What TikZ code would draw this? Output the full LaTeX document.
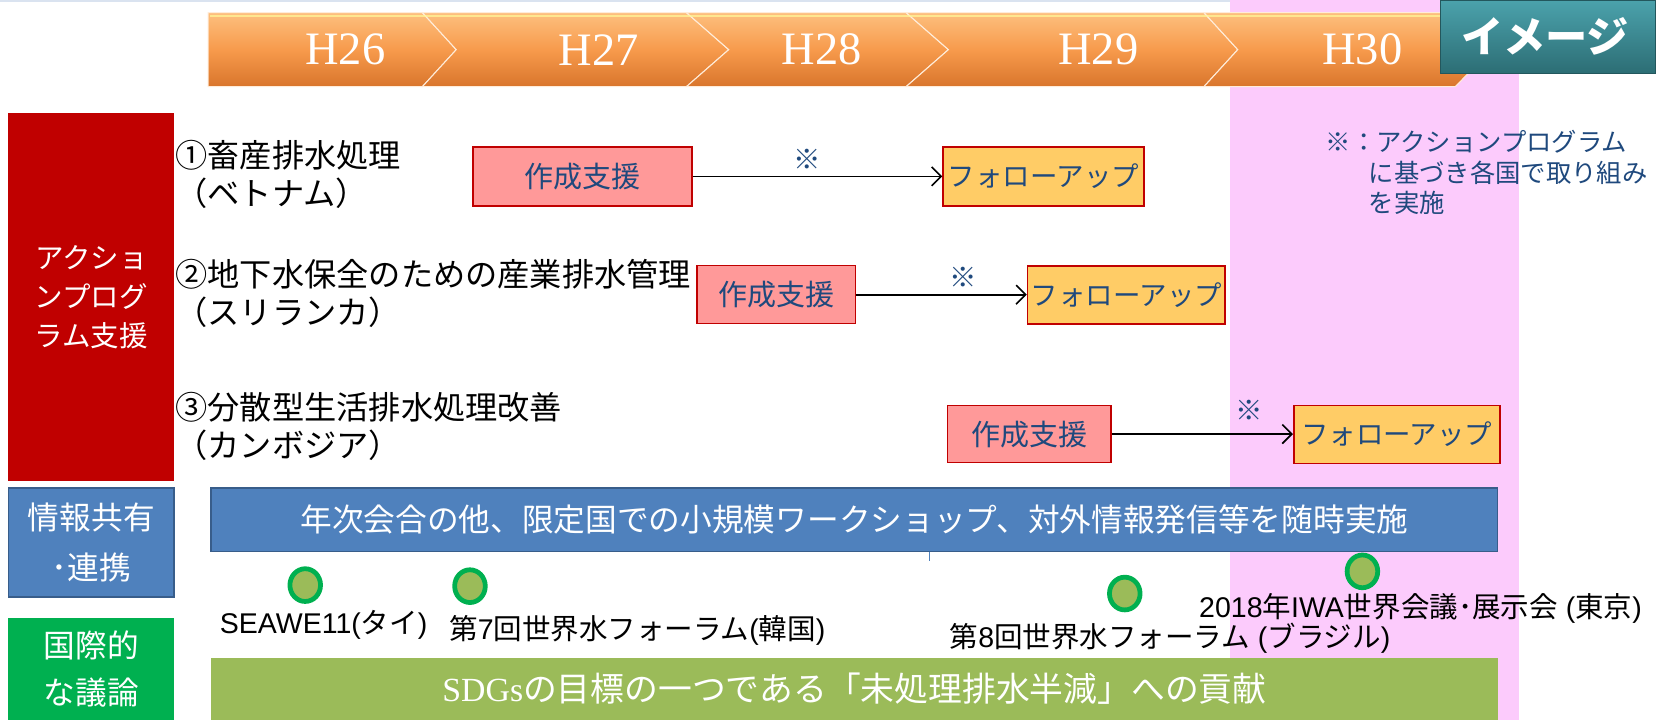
\documentclass[tikz,border=0pt]{standalone}
\usepackage{fontspec}
\setmainfont{Noto Sans CJK JP}
\newfontfamily\serifL{Liberation Serif}
\newfontfamily\lsans{Liberation Sans}
\usetikzlibrary{arrows.meta,shapes.geometric}
\definecolor{catred}{HTML}{C00000}
\definecolor{catblue}{HTML}{4F81BD}
\definecolor{catblueb}{HTML}{385D8A}
\definecolor{catgreen}{HTML}{00B050}
\definecolor{olive}{HTML}{9BBB59}
\definecolor{pinkband}{HTML}{FCCBFC}
\definecolor{topline}{HTML}{DAE3F0}
\definecolor{navytext}{HTML}{1F497D}
\definecolor{sakfill}{HTML}{FF9999}
\definecolor{folfill}{HTML}{FFCC66}
\definecolor{orTop}{HTML}{FDBF7E}
\definecolor{orMid}{HTML}{F79A4C}
\definecolor{orBot}{HTML}{D9752C}
\definecolor{tealTop}{HTML}{4BA2AC}
\definecolor{tealBot}{HTML}{2C6D74}
\newcommand\fsz[2]{\fontsize{#1}{#2}\selectfont}
\begin{document}
\begin{tikzpicture}[x=1pt,y=-1pt,
  catbox/.style={inner sep=0pt, text=white, align=center},
  itemlbl/.style={anchor=north west, align=left, inner sep=0pt, font=\fsz{30.5}{36}},
  sakbox/.style={fill=sakfill, draw=catred, line width=1.5pt, text=navytext, font=\fsz{27.5}{30}, inner sep=0pt},
  folbox/.style={fill=folfill, draw=catred, line width=1.5pt, text=navytext, font=\fsz{26}{30}, inner sep=0pt},
  flow/.style={line width=1.6pt, -{Straight Barb[length=9pt,width=18pt,line width=1.6pt]}},
  kome/.style={text=navytext, font=\fsz{26}{30}, inner sep=0pt},
  evt/.style={ellipse, fill=olive, draw=catgreen, line width=4.5pt, minimum width=29pt, minimum height=31pt, inner sep=0pt},
  evtlbl/.style={font=\fsz{27}{30}, inner sep=0pt},
  yr/.style={text=white, font=\serifL\fsz{44}{50}, inner sep=0pt},
  seg/.style={top color=orTop, bottom color=orBot, middle color=orMid, draw=white!85!orange, line width=1pt}
]
\useasboundingbox (0,0) rectangle (1568,682);
% top line and pink band
\fill[topline] (0,0) rectangle (1568,2);
\fill[pinkband] (1165,0) rectangle (1438,682);

% timeline
\shade[seg] (197,12) -- (400,12) -- (432,47) -- (400,82) -- (197,82) -- cycle;
\shade[seg] (400,12) -- (650,12) -- (690,47) -- (650,82) -- (400,82) -- (432,47) -- cycle;
\shade[seg] (650,12) -- (858,12) -- (898,47) -- (858,82) -- (650,82) -- (690,47) -- cycle;
\shade[seg] (858,12) -- (1140,12) -- (1172,47) -- (1140,82) -- (858,82) -- (898,47) -- cycle;
\shade[seg] (1140,12) -- (1378,12) -- (1412,47) -- (1378,82) -- (1140,82) -- (1172,47) -- cycle;
\draw[line width=2.5pt, yellow!40!white, opacity=0.7] (199,15) -- (1390,15);
\node[yr] (h26) at (327,47) {H26};
\node[yr] (h27) at (567,47) {H27};
\node[yr] (h28) at (778,47) {H28};
\node[yr] (h29) at (1040,47) {H29};
\node[yr] (h30) at (1290,47) {H30};

% image tag
\shade[top color=tealTop, bottom color=tealBot, draw=tealBot!80!black, line width=1pt] (1364,0) rectangle (1568,70);
\node[text=white, font=\bfseries\fsz{40}{44}, inner sep=0pt] (img) at (1463,34) {イメージ};

% category boxes
\node[catbox, fill=catred, minimum width=157pt, minimum height=348pt, font=\fsz{27}{37}] (cat1) at (86.5,281) {アクショ\\ンプログ\\ラム支援};
\node[catbox, fill=catblue, draw=catblueb, line width=1.5pt, minimum width=157pt, minimum height=103pt, font=\fsz{30}{47}] (cat2) at (86.5,513.5) {情報共有\\･連携};
\node[catbox, fill=catgreen, minimum width=157pt, minimum height=97pt, font=\fsz{30}{45}] (cat3) at (86.5,633.5) {国際的\\な議論};

% items
\node[itemlbl] (it1) at (166,133) {①畜産排水処理\\（ベトナム）};
\node[itemlbl] (it2) at (166,245) {②地下水保全のための産業排水管理\\（スリランカ）};
\node[itemlbl] (it3) at (166,371) {③分散型生活排水処理改善\\（カンボジア）};

% process boxes
\node[sakbox, minimum width=207pt, minimum height=56pt] (s1) at (551.5,167) {作成支援};
\node[folbox, minimum width=190pt, minimum height=56pt] (f1) at (988,167) {フォローアップ};
\node[sakbox, minimum width=150pt, minimum height=55pt] (s2) at (735,279) {作成支援};
\node[folbox, minimum width=187pt, minimum height=55pt] (f2) at (1066.5,279.5) {フォローアップ};
\node[sakbox, minimum width=155pt, minimum height=54pt] (s3) at (974.5,411) {作成支援};
\node[folbox, minimum width=195pt, minimum height=55pt] (f3) at (1322.5,411.5) {フォローアップ};

\draw[flow] (s1.east) -- node[kome, pos=0.46, above=6pt] {※} (s1.east -| f1.west);
\draw[flow] (s2.east) -- node[kome, pos=0.63, above=6pt] {※} (s2.east -| f2.west);
\draw[flow] (s3.east) -- node[kome, pos=0.76, above=12pt] {※} (s3.east -| f3.west);

% note
\node[anchor=north west, align=left, inner sep=0pt, text=navytext, font=\fsz{24}{29}] (note) at (1255,123) {※：アクションプログラム\\\hspace*{1.7em}に基づき各国で取り組み\\\hspace*{1.7em}を実施};

% info bar
\node[fill=catblue, draw=catblueb, line width=1.5pt, minimum width=1218pt, minimum height=60pt, text=white, font=\fsz{30}{34}, inner sep=0pt] (bar1) at (809,492) {年次会合の他、限定国での小規模ワークショップ、対外情報発信等を随時実施};
\draw[catblue, line width=1pt] (bar1.south -| 880,0) -- ++(0,8);

% events
\node[evt] (e1) at (289,554) {};
\node[evt] (e2) at (445,555) {};
\node[evt] (e3) at (1065,562) {};
\node[evt] (e4) at (1290,541) {};
\node[evtlbl] (l1) at (306.5,592) {{\lsans SEAWE11(}タイ{\lsans )}};
\node[evtlbl] (l2) at (603.5,597) {第{\lsans 7}回世界水フォーラム{\lsans (}韓国{\lsans )}};
\node[evtlbl] (l3) at (1108,604) {第{\lsans 8}回世界水フォーラム{\lsans\ (}ブラジル{\lsans )}};
\node[evtlbl] (l4) at (1345,576) {{\lsans 2018}年{\lsans IWA}世界会議･展示会{\lsans\ (}東京{\lsans )}};

% SDGs bar
\node[fill=olive, minimum width=1218pt, minimum height=59pt, text=white, font=\fsz{32}{36}, inner sep=0pt] (bar2) at (809,652.5) {{\serifL SDGs}の目標の一つである「未処理排水半減」への貢献};
\end{tikzpicture}
\end{document}
